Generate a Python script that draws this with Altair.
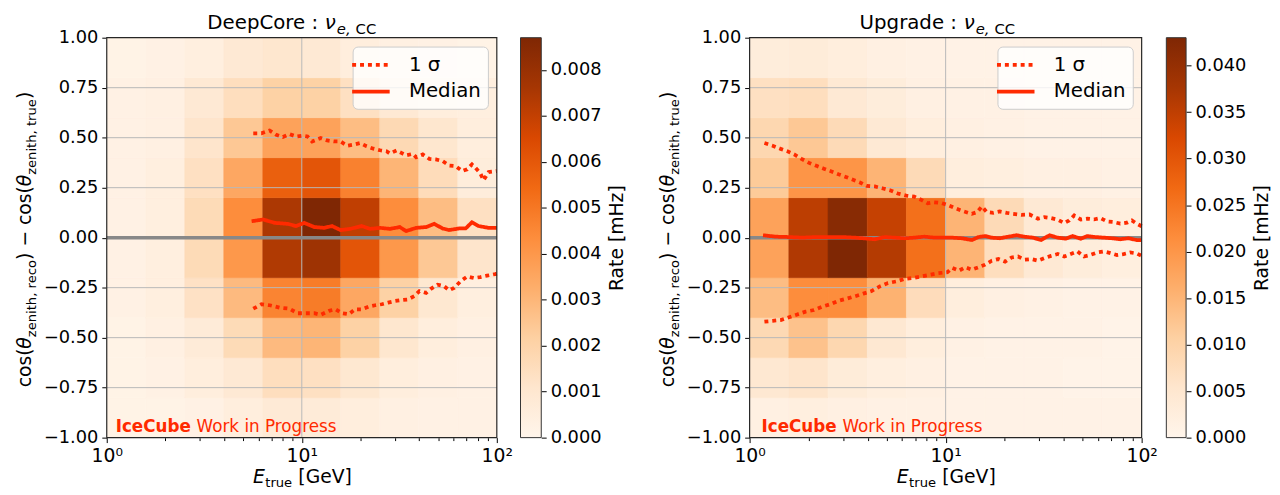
import altair as alt
import pandas as pd

FONT = "DejaVu Sans"
RED = "#ff2a00"
ORANGES = ["#fff5eb", "#fee6ce", "#fdd0a2", "#fdae6b", "#fd8d3c",
           "#f16913", "#d94801", "#a63603", "#7f2704"]

# ---------------- data ----------------
E_EDGES = [1.0, 1.585, 2.512, 3.981, 6.31, 10.0, 15.85, 25.12, 39.81, 63.1, 100.0]
Z_EDGES = [-1.0, -0.8, -0.6, -0.4, -0.2, 0.0, 0.2, 0.4, 0.6, 0.8, 1.0]

X_TICKS = [1, 2, 3, 4, 5, 6, 7, 8, 9, 10, 20, 30, 40, 50, 60, 70, 80, 90, 100]
Y_TICKS = [-1.0, -0.75, -0.5, -0.25, 0.0, 0.25, 0.5, 0.75, 1.0]
GRID_X = [10]
GRID_Y = [-0.75, -0.5, -0.25, 0.25, 0.5, 0.75]

# DeepCore rates [mHz], rows from cos-diff -1 (bottom) to +1 (top)
DC_VMAX = 0.0087
DC_CB_TICKS = [0.0, 0.001, 0.002, 0.003, 0.004, 0.005, 0.006, 0.007, 0.008]
DC_RATE = [
    [0.00017, 0.00017, 0.00026, 0.00052, 0.00078, 0.00070, 0.00052, 0.00035, 0.00026, 0.00026],
    [0.00017, 0.00026, 0.00052, 0.00087, 0.00148, 0.00139, 0.00096, 0.00052, 0.00035, 0.00026],
    [0.00017, 0.00035, 0.00070, 0.00165, 0.00287, 0.00305, 0.00209, 0.00104, 0.00052, 0.00035],
    [0.00026, 0.00044, 0.00131, 0.00287, 0.00461, 0.00487, 0.00348, 0.00209, 0.00096, 0.00044],
    [0.00026, 0.00044, 0.00165, 0.00400, 0.00740, 0.00783, 0.00609, 0.00400, 0.00244, 0.00113],
    [0.00026, 0.00044, 0.00165, 0.00435, 0.00748, 0.00870, 0.00705, 0.00435, 0.00278, 0.00139],
    [0.00026, 0.00044, 0.00139, 0.00348, 0.00574, 0.00609, 0.00470, 0.00305, 0.00157, 0.00061],
    [0.00026, 0.00035, 0.00113, 0.00244, 0.00365, 0.00365, 0.00278, 0.00174, 0.00104, 0.00052],
    [0.00026, 0.00035, 0.00087, 0.00148, 0.00209, 0.00209, 0.00139, 0.00087, 0.00052, 0.00044],
    [0.00017, 0.00026, 0.00044, 0.00087, 0.00104, 0.00087, 0.00052, 0.00035, 0.00026, 0.00017],
]

# Upgrade rates [mHz]
UP_VMAX = 0.043
UP_CB_TICKS = [0.0, 0.005, 0.01, 0.015, 0.02, 0.025, 0.03, 0.035, 0.04]
UP_RATE = [
    [0.0017, 0.0022, 0.0017, 0.0013, 0.0013, 0.0009, 0.0009, 0.0009, 0.0009, 0.0009],
    [0.0047, 0.0056, 0.0034, 0.0022, 0.0017, 0.0009, 0.0009, 0.0009, 0.0006, 0.0006],
    [0.0086, 0.0129, 0.0090, 0.0047, 0.0026, 0.0013, 0.0009, 0.0009, 0.0009, 0.0006],
    [0.0138, 0.0215, 0.0215, 0.0155, 0.0077, 0.0026, 0.0017, 0.0013, 0.0009, 0.0009],
    [0.0181, 0.0366, 0.0430, 0.0361, 0.0258, 0.0151, 0.0073, 0.0043, 0.0030, 0.0022],
    [0.0181, 0.0353, 0.0417, 0.0344, 0.0258, 0.0151, 0.0082, 0.0043, 0.0030, 0.0026],
    [0.0116, 0.0202, 0.0202, 0.0151, 0.0082, 0.0026, 0.0022, 0.0017, 0.0017, 0.0013],
    [0.0090, 0.0120, 0.0082, 0.0043, 0.0026, 0.0017, 0.0013, 0.0009, 0.0009, 0.0009],
    [0.0069, 0.0073, 0.0043, 0.0030, 0.0017, 0.0013, 0.0013, 0.0009, 0.0009, 0.0009],
    [0.0030, 0.0034, 0.0026, 0.0017, 0.0013, 0.0009, 0.0009, 0.0009, 0.0009, 0.0009],
]

# DeepCore lines
DC_UP_E = [5.64, 6.21, 6.84, 7.40, 8.00, 8.64, 9.34, 10.1, 10.7, 11.3,
           12.5, 13.5, 14.6, 15.8, 17.1, 18.4, 19.9, 21.5, 23.3, 25.2,
           27.2, 28.3, 30.6, 32.4, 34.3, 37.1, 38.6, 41.7, 45.1, 48.7,
           52.7, 56.9, 61.5, 66.5, 70.5, 74.6, 77.6, 82.3, 85.5, 90.8, 100.0]
DC_UP_V = [0.522, 0.522, 0.536, 0.514, 0.503, 0.518, 0.506, 0.510, 0.506, 0.481,
           0.498, 0.486, 0.481, 0.481, 0.460, 0.465, 0.473, 0.457, 0.445, 0.437,
           0.432, 0.421, 0.436, 0.424, 0.412, 0.419, 0.402, 0.416, 0.394, 0.391,
           0.383, 0.361, 0.358, 0.333, 0.342, 0.366, 0.350, 0.322, 0.287, 0.328, 0.333]
DC_MED_E = [5.53, 6.33, 7.26, 8.48, 9.34, 10.3, 11.6, 13.0, 14.3, 15.8,
            17.7, 20.3, 22.4, 25.2, 28.3, 31.8, 34.3, 38.6, 43.4, 47.8,
            52.7, 56.9, 64.0, 69.2, 74.6, 80.7, 90.8, 100.0]
DC_MED_V = [0.082, 0.091, 0.074, 0.069, 0.058, 0.074, 0.053, 0.049, 0.058, 0.038,
            0.044, 0.058, 0.044, 0.049, 0.044, 0.053, 0.033, 0.049, 0.053, 0.069,
            0.046, 0.038, 0.046, 0.046, 0.077, 0.058, 0.049, 0.049]
DC_LO_E = [5.64, 6.21, 6.85, 7.69, 8.64, 9.52, 10.5, 11.6, 12.5, 13.8,
           14.9, 16.1, 17.4, 18.8, 20.3, 22.0, 23.8, 25.7, 27.7, 30.0,
           32.4, 35.0, 37.8, 40.1, 43.4, 45.9, 49.7, 53.7, 56.9, 60.4,
           65.2, 70.5, 76.2, 82.4, 89.0, 98.1, 100.0]
DC_LO_V = [-0.355, -0.333, -0.338, -0.350, -0.355, -0.378, -0.378, -0.378, -0.386, -0.366,
           -0.358, -0.378, -0.383, -0.358, -0.358, -0.345, -0.338, -0.333, -0.325, -0.317,
           -0.312, -0.309, -0.292, -0.267, -0.276, -0.256, -0.235, -0.243, -0.263, -0.251,
           -0.218, -0.194, -0.202, -0.197, -0.190, -0.182, -0.180]

# Upgrade lines
UP_UP_E = [1.19, 1.31, 1.44, 1.56, 1.69, 1.84, 2.01, 2.21, 2.39, 2.58,
           2.84, 3.07, 3.32, 3.66, 3.95, 4.35, 4.80, 5.28, 5.70, 6.29,
           6.92, 7.48, 8.09, 8.73, 9.44, 10.2, 11.2, 12.4, 13.6, 14.5,
           15.3, 16.2, 17.5, 18.9, 20.5, 22.1, 24.4, 26.8, 29.6, 31.9,
           34.5, 37.3, 40.3, 42.7, 45.3, 48.9, 52.8, 57.1, 61.7, 66.7,
           72.0, 77.8, 84.1, 89.1, 94.4, 100.0]
UP_UP_V = [0.473, 0.460, 0.444, 0.432, 0.416, 0.394, 0.374, 0.358, 0.345, 0.333,
           0.317, 0.305, 0.292, 0.276, 0.259, 0.256, 0.246, 0.235, 0.221, 0.210,
           0.205, 0.190, 0.172, 0.177, 0.174, 0.164, 0.147, 0.131, 0.119, 0.128,
           0.156, 0.128, 0.124, 0.131, 0.124, 0.119, 0.114, 0.116, 0.095, 0.103,
           0.098, 0.090, 0.073, 0.086, 0.111, 0.091, 0.095, 0.091, 0.098, 0.081,
           0.078, 0.070, 0.075, 0.086, 0.070, 0.057]
UP_MED_E = [1.17, 1.36, 1.59, 1.86, 2.17, 2.53, 2.96, 3.45, 4.03, 4.35,
            4.89, 5.49, 6.17, 6.92, 7.78, 8.73, 10.2, 10.8, 12.1, 13.6,
            14.7, 15.9, 17.2, 18.9, 20.9, 23.0, 25.3, 27.9, 30.7, 33.9,
            37.3, 41.1, 44.4, 48.9, 52.8, 58.2, 64.1, 70.6, 77.8, 85.7,
            94.4, 100.0]
UP_MED_V = [0.012, 0.005, 0.003, 0.0, 0.003, 0.003, 0.003, 0.0, -0.005, -0.008,
            0.003, 0.0, -0.003, 0.0, 0.005, 0.0, 0.0, 0.0, -0.003, -0.012,
            0.003, 0.008, 0.0, -0.003, 0.005, 0.012, 0.005, 0.0, -0.012, 0.012,
            0.0, -0.005, 0.008, -0.005, 0.008, 0.003, 0.0, -0.003, -0.008, -0.003,
            -0.012, -0.012]
UP_LO_E = [1.19, 1.31, 1.44, 1.59, 1.75, 1.93, 2.13, 2.34, 2.58, 2.84,
           3.13, 3.45, 3.80, 4.19, 4.61, 5.08, 5.60, 6.17, 6.79, 7.48,
           8.24, 9.08, 10.2, 10.8, 11.7, 12.6, 13.6, 14.7, 15.9, 17.2,
           18.6, 20.1, 21.7, 23.4, 25.3, 27.4, 29.6, 31.9, 34.5, 37.3,
           40.3, 43.5, 47.1, 50.8, 54.9, 59.4, 64.1, 69.3, 74.8, 80.9,
           87.4, 94.4, 100.0]
UP_LO_V = [-0.420, -0.416, -0.412, -0.398, -0.384, -0.370, -0.362, -0.346, -0.333, -0.316,
           -0.305, -0.293, -0.280, -0.267, -0.244, -0.227, -0.219, -0.206, -0.202, -0.194,
           -0.186, -0.178, -0.173, -0.151, -0.165, -0.148, -0.160, -0.148, -0.135, -0.115,
           -0.107, -0.120, -0.099, -0.094, -0.110, -0.107, -0.115, -0.102, -0.091, -0.082,
           -0.094, -0.082, -0.069, -0.094, -0.086, -0.074, -0.069, -0.077, -0.087, -0.082,
           -0.074, -0.079, -0.091]

SIGMA = "1 σ"
MEDIAN = "Median"
H = 405

ONE = pd.DataFrame({"k": [0]})


def txt(text, x, y, size, angle=0, style="normal", weight="normal",
        color="black", align="left"):
    return alt.Chart(ONE).mark_text(
        text=text, font=FONT, fontSize=size, fontStyle=style, fontWeight=weight,
        color=color, align=align, baseline="alphabetic", angle=angle
    ).encode(x=alt.value(x), y=alt.value(y))


def heat_frame(rates):
    rows = []
    for j, row in enumerate(rates):
        for i, v in enumerate(row):
            rows.append({"e0": E_EDGES[i], "e1": E_EDGES[i + 1],
                         "z0": Z_EDGES[j], "z1": Z_EDGES[j + 1], "rate": v})
    return pd.DataFrame(rows)


def line_frame(up_e, up_v, med_e, med_v, lo_e, lo_v):
    rows = []
    for s, k, es, vs in (("up", SIGMA, up_e, up_v), ("med", MEDIAN, med_e, med_v),
                         ("lo", SIGMA, lo_e, lo_v)):
        for e, v in zip(es, vs):
            rows.append({"series": s, "kind": k, "E": e, "v": v})
    return pd.DataFrame(rows)


MAJOR_TEST = "datum.value == 1 || datum.value == 10 || datum.value == 100"
XLABELS = ("datum.value == 1 ? '10⁰' : datum.value == 10 ? '10¹' : "
           "datum.value == 100 ? '10²' : ''")


def panel(name, W, rates, vmax, cb_ticks, lines_df, cb_x0, cb_x1,
          title_x, ice_x, work_x):
    xs = alt.Scale(type="log", domain=[1, 100], nice=False)
    ys = alt.Scale(domain=[-1, 1], nice=False, zero=False)
    stops = [vmax * k / 8 for k in range(9)]
    cscale = alt.Scale(domain=stops, range=ORANGES, interpolate="rgb")

    xaxis = alt.Axis(values=X_TICKS, labelExpr=XLABELS, title=None, grid=False,
                     domain=False, labelFlush=False, labelOverlap=False,
                     labelPadding=4, labelFontSize=19,
                     tickSize={"condition": {"test": MAJOR_TEST, "value": 5}, "value": 3})
    yaxis = alt.Axis(values=Y_TICKS, format=".2f", title=None, grid=False,
                     domain=False, tickSize=5, labelPadding=4, labelFontSize=18,
                     labelFlush=False, labelOverlap=False)

    heat = alt.Chart(heat_frame(rates)).mark_rect(strokeWidth=0.6).encode(
        x=alt.X("e0:Q", scale=xs, axis=xaxis), x2="e1:Q",
        y=alt.Y("z0:Q", scale=ys, axis=yaxis), y2="z1:Q",
        color=alt.Color("rate:Q", scale=cscale, legend=None),
        stroke=alt.Stroke("rate:Q", scale=cscale, legend=None),
    )
    gx = alt.Chart(pd.DataFrame({"g": GRID_X})).mark_rule(
        color="#b8b8b8", strokeWidth=1).encode(x=alt.X("g:Q", title=None))
    gy = alt.Chart(pd.DataFrame({"g": GRID_Y})).mark_rule(
        color="#b8b8b8", strokeWidth=1).encode(y=alt.Y("g:Q", title=None))
    zero = alt.Chart(pd.DataFrame({"z": [0.0]})).mark_rule(
        color="#888888", strokeWidth=3.5).encode(y=alt.Y("z:Q", title=None))

    lines = alt.Chart(lines_df).mark_line(color=RED, strokeWidth=3.8, strokeCap="butt").encode(
        x=alt.X("E:Q", title=None),
        y=alt.Y("v:Q", title=None),
        detail="series:N",
        strokeDash=alt.StrokeDash(
            "kind:N",
            scale=alt.Scale(domain=[SIGMA, MEDIAN], range=[[4, 4], [1, 0]]),
            legend=alt.Legend(
                title=None, orient="top-right", offset=9, padding=7,
                fillColor="rgba(255,255,255,0.8)", strokeColor="#cccccc",
                cornerRadius=5, symbolType="M-2,0H2", symbolSize=361,
                symbolStrokeWidth=3.8, symbolStrokeColor=RED,
                labelFont=FONT, labelFontSize=20, labelColor="black",
                labelOffset=27, rowPadding=5),
        ),
    )
    frame = alt.Chart(ONE).mark_rect(filled=False, stroke="#262626", strokeWidth=1.2).encode(
        x=alt.value(0), x2=alt.value(W), y=alt.value(0), y2=alt.value(H))

    texts = [
        # title
        txt(name + " :", title_x - 18, -9, 20, align="right"),
        txt("ν", title_x, -9, 20, style="italic", align="right"),
        txt("e,", title_x + 1, -4, 15, style="italic"),
        txt("CC", title_x + 20, -4, 15),
        # x title
        txt("E", W / 2 - 49.5, 451, 19, style="italic"),
        txt("true", W / 2 - 37, 455, 13.3),
        txt("[GeV]", W / 2 - 3.5, 451, 19),
        # y title (rotated)
        txt("cos(", -77, 354, 19, angle=270),
        txt("θ", -77, 314.9, 19, angle=270, style="italic"),
        txt("zenith, reco", -72, 303.3, 13.3, angle=270),
        txt(") − cos(", -77, 225.0, 19, angle=270),
        txt("θ", -77, 150.5, 19, angle=270, style="italic"),
        txt("zenith, true", -72, 138.9, 13.3, angle=270),
        txt(")", -77, 62.2, 19, angle=270),
        # watermark
        txt("IceCube", ice_x, 399, 17, weight="bold", color=RED),
        txt("Work in Progress", work_x, 399, 17, color=RED),
    ]

    inner = alt.layer(heat, gx, gy, zero, lines, frame, *texts)

    grad = {"gradient": "linear", "x1": 0, "y1": 1, "x2": 0, "y2": 0,
            "stops": [{"offset": k / 8, "color": c} for k, c in enumerate(ORANGES)]}
    cb = alt.Chart(pd.DataFrame({"lo": [0.0], "hi": [vmax]})).mark_rect(
        fill=grad, stroke="#333333", strokeWidth=1).encode(
        x=alt.value(cb_x0), x2=alt.value(cb_x1),
        y=alt.Y("lo:Q", scale=alt.Scale(domain=[0, vmax], nice=False, zero=False),
                axis=alt.Axis(orient="right", offset=cb_x1 - W, values=cb_ticks,
                              format=".3f", title="Rate [mHz]", titleAngle=270,
                              titleBaseline="top", titleFontSize=19,
                              titleFontWeight="normal", titlePadding=7,
                              tickSize=5, labelPadding=4, labelFontSize=18,
                              domain=False, grid=False, labelFlush=False,
                              labelOverlap=False)),
        y2="hi:Q",
    )
    return alt.layer(inner, cb).resolve_scale(y="independent").properties(width=W, height=H)


left = panel("DeepCore", 395, DC_RATE, DC_VMAX, DC_CB_TICKS,
             line_frame(DC_UP_E, DC_UP_V, DC_MED_E, DC_MED_V, DC_LO_E, DC_LO_V),
             419, 440, 232, 9, 91)
right = panel("Upgrade", 397, UP_RATE, UP_VMAX, UP_CB_TICKS,
              line_frame(UP_UP_E, UP_UP_V, UP_MED_E, UP_MED_V, UP_LO_E, UP_LO_V),
              422, 442, 228, 12, 94)

chart = alt.hconcat(left, right, spacing=256, bounds="flush").resolve_scale(
    color="independent", stroke="independent", strokeDash="independent"
).resolve_legend(strokeDash="independent").properties(
    padding={"left": 8, "top": 2, "right": 0, "bottom": 0}
).configure(font=FONT).configure_view(stroke=None).configure_axis(
    labelFont=FONT, titleFont=FONT, labelColor="black", tickColor="black",
    titleColor="black", tickWidth=1
)

chart.save("out.html", embed_options={"renderer": "svg", "actions": False})
